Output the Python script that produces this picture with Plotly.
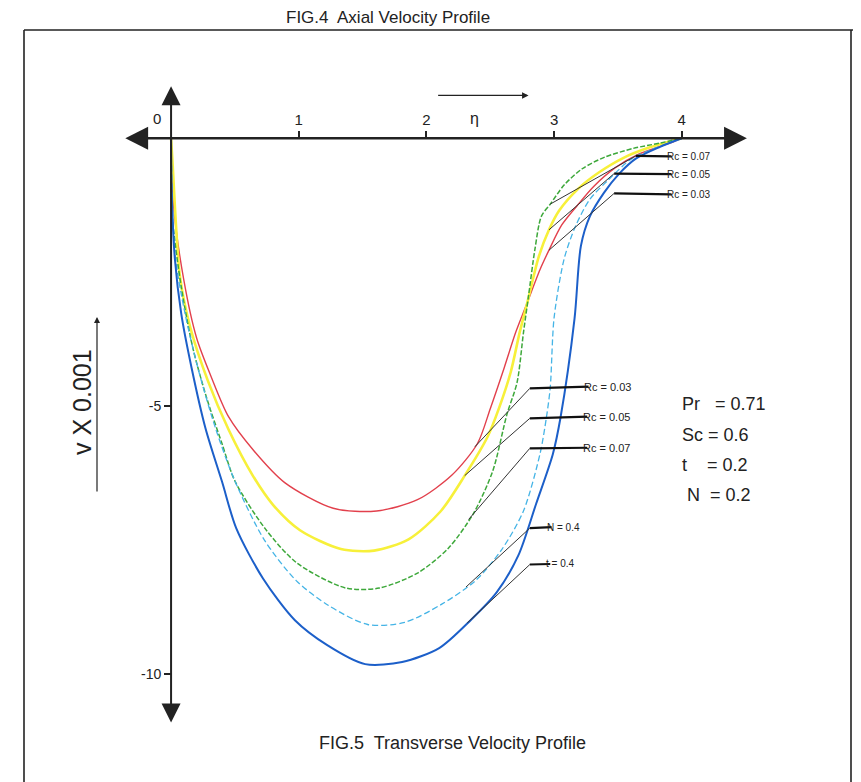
import plotly.graph_objects as go

# ---------------- data (eta, v x 0.001) ----------------
eta_rc003 = [0, 0.02, 0.10, 0.20, 0.31, 0.45, 0.65, 0.89, 1.27, 1.61, 1.93, 2.20, 2.40, 2.50, 2.61,
             2.70, 2.78, 2.89, 2.96, 3.06, 3.18, 3.31, 3.48, 3.67, 3.93, 4.0]
v_rc003 = [0, -1.27, -2.65, -3.73, -4.43, -5.20, -5.84, -6.43, -6.91, -6.96, -6.75, -6.29, -5.70, -5.05, -4.28,
           -3.62, -3.13, -2.45, -2.09, -1.62, -1.26, -0.90, -0.55, -0.29, -0.07, 0]

eta_rc005 = [0, 0.01, 0.07, 0.15, 0.29, 0.45, 0.64, 0.80, 1.01, 1.33, 1.59, 1.86, 2.11, 2.30, 2.48, 2.57,
             2.66, 2.73, 2.79, 2.88, 2.96, 3.04, 3.19, 3.35, 3.54, 3.75, 4.0]
v_rc005 = [0, -0.39, -2.59, -3.53, -4.54, -5.44, -6.30, -6.85, -7.32, -7.67, -7.70, -7.49, -6.97, -6.30, -5.57, -5.03,
           -4.37, -3.63, -3.07, -2.21, -1.71, -1.35, -0.94, -0.64, -0.37, -0.17, 0]

eta_rc007 = [0, 0.01, 0.08, 0.17, 0.28, 0.40, 0.50, 0.74, 0.99, 1.37, 1.63, 1.93, 2.17, 2.37, 2.52, 2.63,
             2.71, 2.76, 2.80, 2.85, 2.90, 2.97, 3.08, 3.22, 3.40, 3.62, 3.83, 4.0]
v_rc007 = [0, -1.46, -2.78, -3.91, -4.86, -5.71, -6.40, -7.30, -7.94, -8.40, -8.40, -8.12, -7.66, -7.00, -6.21, -5.16,
           -4.56, -3.63, -2.94, -2.07, -1.46, -1.23, -0.87, -0.57, -0.35, -0.19, -0.09, 0]

eta_n04 = [0, 0.03, 0.11, 0.21, 0.35, 0.50, 0.73, 0.98, 1.23, 1.54, 1.83, 2.12, 2.38, 2.59, 2.76, 2.89,
           2.94, 2.97, 3.00, 3.08, 3.17, 3.28, 3.42, 3.61, 3.83, 4.0]
v_n04 = [0, -2.15, -3.28, -4.29, -5.43, -6.40, -7.50, -8.26, -8.72, -9.08, -9.04, -8.70, -8.27, -7.68, -6.96, -5.89,
         -5.21, -4.65, -3.35, -2.24, -1.63, -1.14, -0.79, -0.38, -0.15, 0]

eta_t04 = [0, 0.005, 0.03, 0.08, 0.16, 0.27, 0.40, 0.51, 0.72, 0.97, 1.22, 1.52, 1.81, 2.10, 2.35, 2.55,
           2.72, 2.86, 2.99, 3.05, 3.16, 3.21, 3.28, 3.39, 3.51, 3.64, 3.83, 4.0]
v_t04 = [0, -1.02, -2.26, -3.28, -4.28, -5.42, -6.42, -7.28, -8.22, -9.00, -9.46, -9.82, -9.78, -9.52, -8.99, -8.48,
         -7.79, -6.82, -5.90, -5.22, -3.37, -2.01, -1.46, -1.02, -0.66, -0.38, -0.16, 0]

x_tick_vals = [1, 2, 3, 4]
x_tick_text = ["1", "2", "3", "4"]
y_tick_vals = [-5, -10]
y_tick_text = ["-5", "-10"]

param_text = ["Pr\u00a0\u00a0\u00a0= 0.71", "Sc = 0.6", "t\u00a0\u00a0\u00a0\u00a0= 0.2", "N\u00a0\u00a0= 0.2"]

# ---------------- figure ----------------
OFF = 8                      # default page margin around the plot div
W, H = 861 - OFF, 782 - OFF
ML, MT = 112, 74
PW, PH = 632, 648
MR, MB = W - ML - PW, H - MT - PH
XR = [-0.4, 4.55]
YR = [-11.05, 1.05]
FONT = "Arial, Liberation Sans, sans-serif"


def px(x, y):
    """page pixel position -> paper coordinates"""
    return (x - OFF - ML) / PW, 1 - (y - OFF - MT) / PH


fig = go.Figure()
series = [
    (eta_rc003, v_rc003, "Rc = 0.03", dict(color="#e2404c", width=1.4)),
    (eta_rc005, v_rc005, "Rc = 0.05", dict(color="#f7f03a", width=2.6)),
    (eta_rc007, v_rc007, "Rc = 0.07", dict(color="#3da83a", width=1.5, dash="5px,2px")),
    (eta_n04, v_n04, "N = 0.4", dict(color="#45b4e6", width=1.3, dash="6px,3px")),
    (eta_t04, v_t04, "t = 0.4", dict(color="#1c5fc9", width=2.0)),
]
for xs, ys, name, ln in series:
    fig.add_trace(go.Scatter(x=xs, y=ys, mode="lines", name=name, line=dict(shape="spline", smoothing=0.8, **ln),
                             showlegend=False, hoverinfo="x+y+name"))

ann = []
# axes with arrowheads
ann.append(dict(x=4.51, y=0, ax=-0.37, ay=0, xref="x", yref="y", axref="x", ayref="y", text="", showarrow=True,
                arrowhead=2, startarrowhead=2, arrowside="end+start", arrowsize=1.9, startarrowsize=1.9,
                arrowwidth=2.4, arrowcolor="#222"))
ann.append(dict(x=0, y=0.97, ax=0, ay=-10.94, xref="x", yref="y", axref="x", ayref="y", text="", showarrow=True,
                arrowhead=2, startarrowhead=2, arrowside="end+start", arrowsize=1.9, startarrowsize=1.9,
                arrowwidth=2.0, arrowcolor="#222"))
# origin label
ann.append(dict(x=-0.11, y=0.37, xref="x", yref="y", text="0", showarrow=False, font=dict(size=15, color="#222")))
# eta label with arrow
ann.append(dict(x=2.80, y=0.80, ax=2.08, ay=0.80, xref="x", yref="y", axref="x", ayref="y", text="", showarrow=True,
                arrowhead=2, arrowsize=1.0, arrowwidth=1.3, arrowcolor="#222"))
ann.append(dict(x=2.38, y=0.36, xref="x", yref="y", text="η", showarrow=False, font=dict(size=16, color="#222")))
# y label with arrow (paper coordinates, left of the plot area)
ax1, ay1 = px(97, 317)
ann.append(dict(x=ax1, y=ay1, ax=0, ay=176, xref="paper", yref="paper", axref="pixel", ayref="pixel", text="",
                showarrow=True, arrowhead=2, arrowsize=1.0, arrowwidth=1.2, arrowcolor="#222"))
lx, ly = px(82, 402)
ann.append(dict(x=lx, y=ly, xref="paper", yref="paper", text="v X 0.001", textangle=-90, showarrow=False,
                xanchor="center", yanchor="middle", font=dict(size=25, color="#222")))

# curve labels: (text, text_x, text_y, knee_x, knee_y, end_x, end_y, size)
labels = [
    ("Rc = 0.07", 3.87, -0.34, 3.64, -0.33, 2.97, -1.23, 10),
    ("Rc = 0.05", 3.87, -0.67, 3.47, -0.66, 2.96, -1.71, 10),
    ("Rc = 0.03", 3.87, -1.05, 3.47, -1.03, 2.96, -2.09, 10),
    ("Rc = 0.03", 3.22, -4.64, 2.81, -4.67, 2.38, -5.76, 11),
    ("Rc = 0.05", 3.21, -5.20, 2.81, -5.23, 2.30, -6.30, 11),
    ("Rc = 0.07", 3.21, -5.78, 2.81, -5.79, 2.33, -7.12, 11),
    ("N = 0.4", 2.93, -7.26, 2.81, -7.28, 2.31, -8.38, 10),
    ("t = 0.4", 2.92, -7.95, 2.81, -7.96, 2.32, -9.05, 10),
]
shapes = []
for t, tx, ty, kx, ky, ex, ey, fs in labels:
    ann.append(dict(x=tx, y=ty, xref="x", yref="y", text=t, showarrow=False, xanchor="left",
                    font=dict(size=fs, color="#222")))
    shapes.append(dict(type="line", xref="x", yref="y", x0=kx, y0=ky, x1=tx + 0.05, y1=ty,
                       line=dict(color="#111", width=2.2)))
    shapes.append(dict(type="line", xref="x", yref="y", x0=ex, y0=ey, x1=kx, y1=ky,
                       line=dict(color="#333", width=1)))

# parameters (page positions)
for t, (tx, ty) in zip(param_text, [(680, 404), (680, 435), (680, 465), (685, 495)]):
    a, b = px(tx, ty)
    ann.append(dict(x=a, y=b, xref="paper", yref="paper", text=t, showarrow=False, xanchor="left",
                    yanchor="middle", font=dict(size=18, color="#222")))

# captions
cx, cy = px(452, 743)
ann.append(dict(x=cx, y=cy, xref="paper", yref="paper", text="FIG.5  Transverse Velocity Profile",
                showarrow=False, xanchor="center", yanchor="middle", font=dict(size=18, color="#222")))
cx, cy = px(388, 17)
ann.append(dict(x=cx, y=cy, xref="paper", yref="paper", text="FIG.4  Axial Velocity Profile",
                showarrow=False, xanchor="center", yanchor="middle", font=dict(size=17, color="#222")))

# frame
for (x0, y0, x1, y1) in [(24, 30, 853, 30), (24, 30, 24, 782), (851, 30, 851, 782)]:
    a0, b0 = px(x0, y0)
    a1, b1 = px(x1, y1)
    shapes.append(dict(type="line", xref="paper", yref="paper", x0=a0, y0=b0, x1=a1, y1=b1,
                       line=dict(color="#222", width=1.6)))

fig.update_layout(
    width=W, height=H,
    margin=dict(l=ML, r=MR, t=MT, b=MB),
    paper_bgcolor="white", plot_bgcolor="white",
    font=dict(family=FONT, color="#222"),
    annotations=ann, shapes=shapes,
    xaxis=dict(range=XR, anchor="free", position=(0 - YR[0]) / (YR[1] - YR[0]), side="top",
               showline=False, zeroline=False, showgrid=False, ticks="outside", ticklen=7, tickwidth=1.5,
               tickcolor="#222", tickvals=x_tick_vals, ticktext=x_tick_text, tickfont=dict(size=15)),
    yaxis=dict(range=YR, anchor="free", position=(0 - XR[0]) / (XR[1] - XR[0]), side="left",
               showline=False, zeroline=False, showgrid=False, ticks="outside", ticklen=7, tickwidth=1.5,
               tickcolor="#222", tickvals=y_tick_vals, ticktext=y_tick_text, tickfont=dict(size=14)),
)

fig.write_html("out.html")
